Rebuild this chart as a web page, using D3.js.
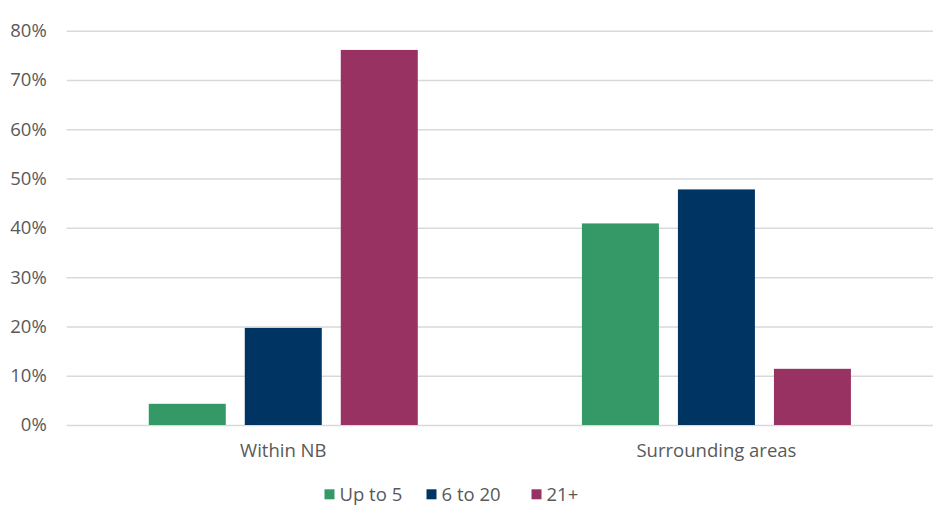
<!DOCTYPE html>
<html><head><meta charset="utf-8">
<script src="https://cdn.jsdelivr.net/npm/d3@7"></script>
<style>
html,body{margin:0;padding:0;background:#fff;}
text{font-family:"Open Sans",sans-serif;}
</style></head>
<body><svg id="chart" width="942" height="521"></svg>
<script>
const categories = ["Within NB", "Surrounding areas"];
const seriesNames = ["Up to 5", "6 to 20", "21+"];
const upTo5 = [0.043, 0.409];
const sixTo20 = [0.197, 0.478];
const over21 = [0.761, 0.114];
const yTicks = [0, 0.1, 0.2, 0.3, 0.4, 0.5, 0.6, 0.7, 0.8];
const colors = ["#349966", "#003462", "#983263"];

const seriesValues = [upTo5, sixTo20, over21];
const svg = d3.select("#chart");
const mLeft = 66.7, mRight = 933, mTop = 30.7, mBottom = 425;
const fontSize = "18.5px";

const x0 = d3.scaleBand().domain(categories).range([mLeft, mRight]).paddingInner(0).paddingOuter(0);
const y = d3.scaleLinear().domain([0, 0.8]).range([mBottom, mTop]);
const groupW = 96*2 + 77;
const x1 = d3.scaleBand().domain(seriesNames).range([0, groupW]).paddingInner(19/96).paddingOuter(0);

// gridlines
const yAxis = d3.axisLeft(y).tickValues(yTicks).tickFormat(d3.format(".0%")).tickSize(-(mRight-mLeft)).tickPadding(20);
const gy = svg.append("g").attr("transform", `translate(${mLeft},0)`).call(yAxis);
gy.select(".domain").remove();
gy.selectAll(".tick line").attr("stroke", "#d9d9d9").attr("stroke-width", 1.5);
gy.selectAll(".tick text").attr("fill", "#595959").style("font-size", fontSize).attr("font-family", "Open Sans").attr("x", -20);

// bars
categories.forEach((c, ci) => {
  const g = svg.append("g").attr("transform", `translate(${x0(c) + (x0.bandwidth()-groupW)/2},0)`);
  seriesNames.forEach((s, si) => {
    const v = seriesValues[si][ci];
    g.append("rect")
      .attr("x", x1(s)).attr("width", x1.bandwidth())
      .attr("y", y(v)).attr("height", y(0) - y(v))
      .attr("fill", colors[si]);
  });
});

// x axis labels
const xAxis = d3.axisBottom(x0).tickSize(0).tickPadding(18.5);
const gx = svg.append("g").attr("transform", `translate(0,${mBottom})`).call(xAxis);
gx.select(".domain").remove();
gx.selectAll(".tick text").attr("fill", "#595959").style("font-size", fontSize).attr("font-family", "Open Sans");

// legend
const legendX = [324.5, 426.5, 531.5];
const leg = svg.append("g");
seriesNames.forEach((s, i) => {
  leg.append("rect").attr("x", legendX[i]).attr("y", 489.3).attr("width", 10).attr("height", 10).attr("fill", colors[i]);
  leg.append("text").attr("x", legendX[i] + 15).attr("y", 500.5).text(s)
    .attr("fill", "#595959").style("font-size", fontSize);
});
</script></body></html>
